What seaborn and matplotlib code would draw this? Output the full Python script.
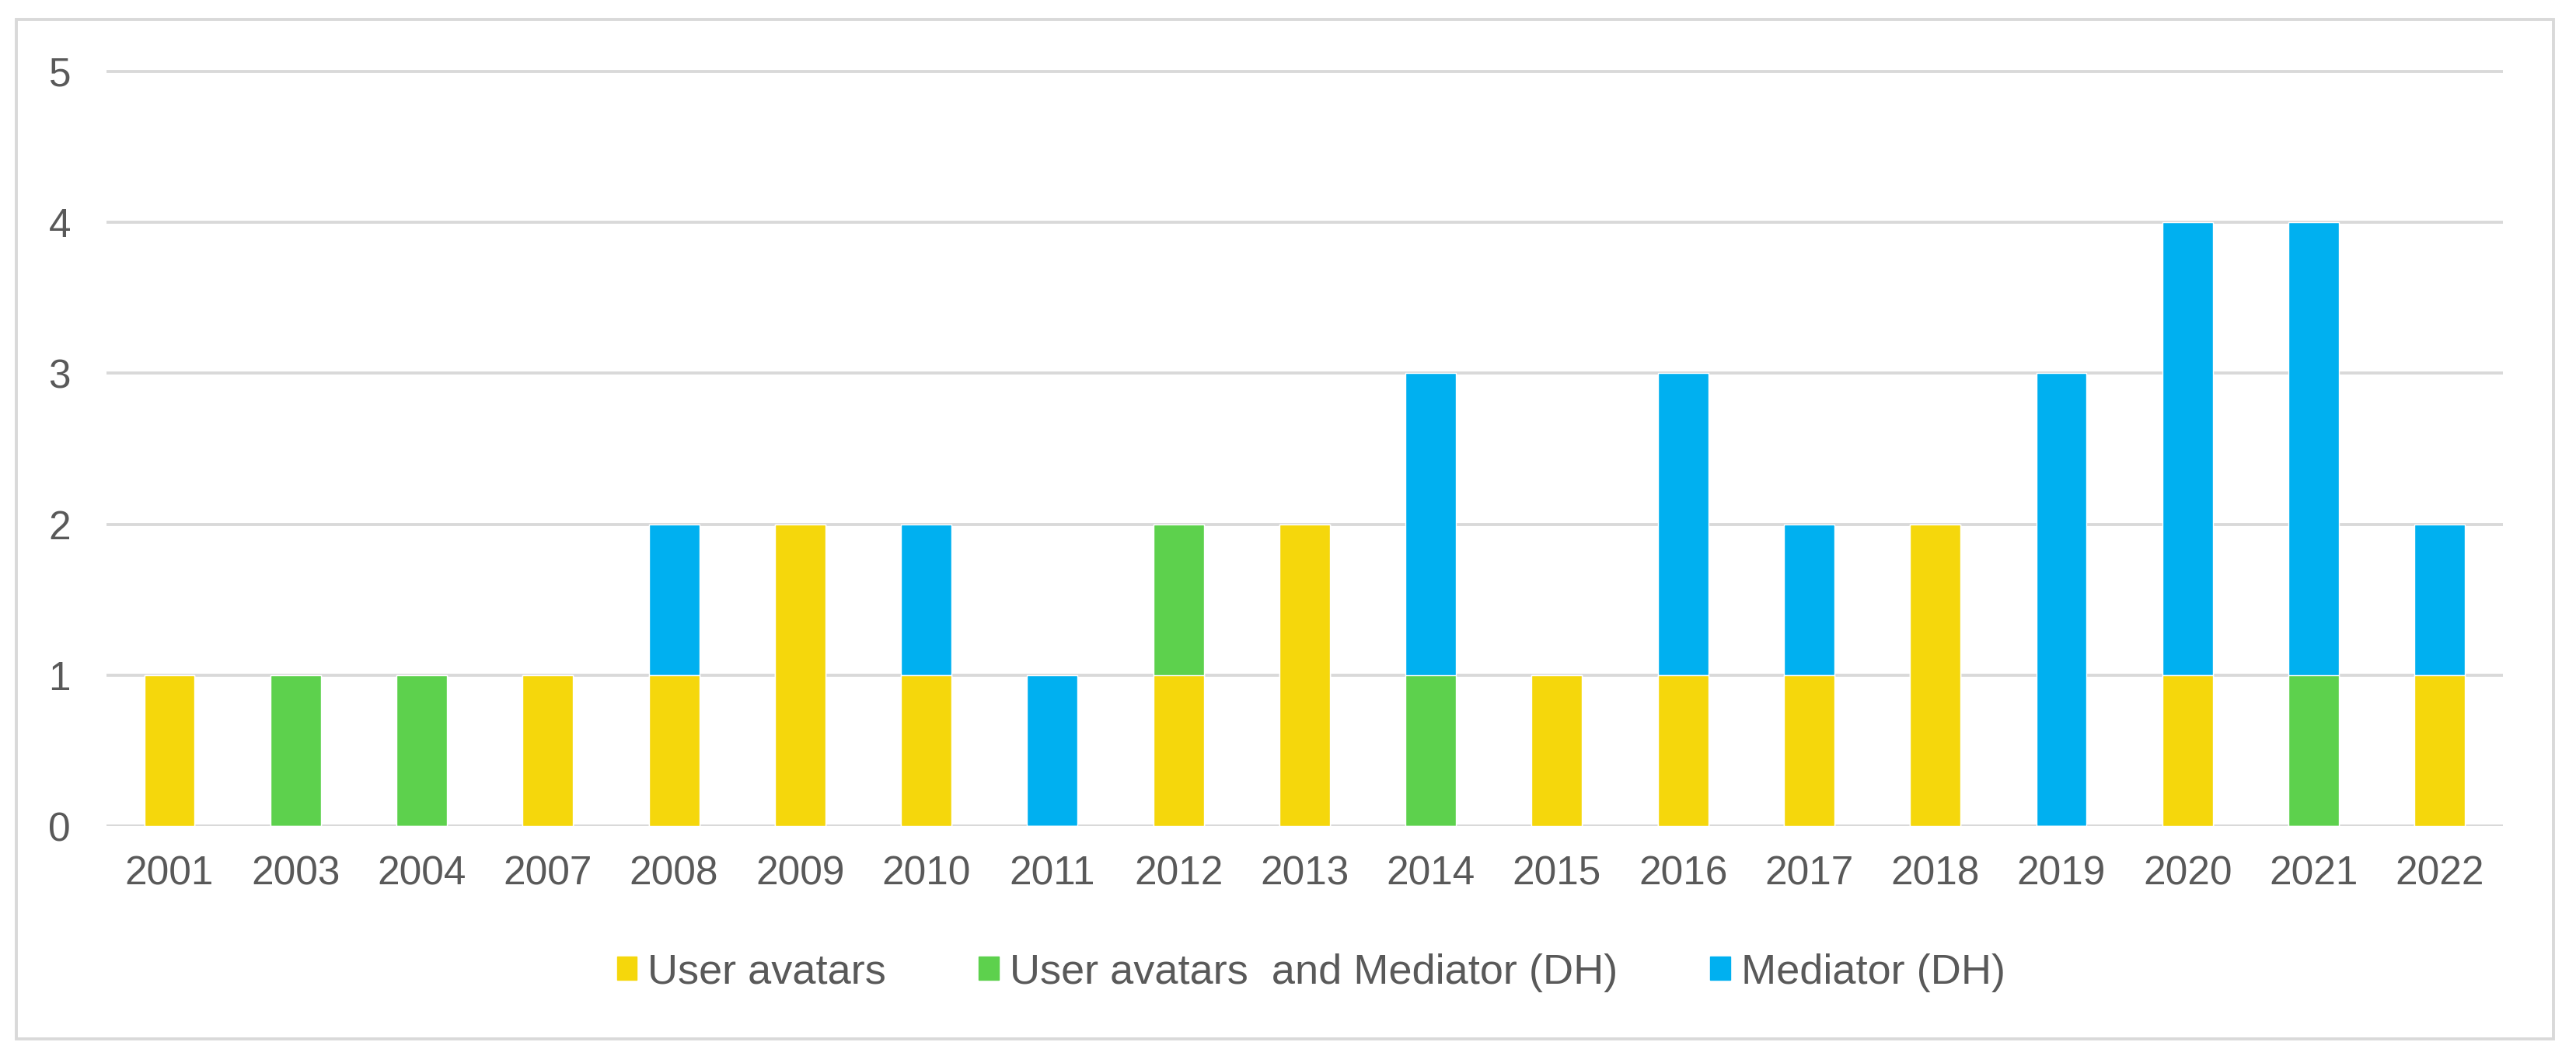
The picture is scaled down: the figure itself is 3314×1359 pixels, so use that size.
import pandas as pd
import matplotlib.pyplot as plt
import matplotlib.patches as mpatches
import seaborn as sns

years = ["2001", "2003", "2004", "2007", "2008", "2009", "2010", "2011", "2012", "2013",
         "2014", "2015", "2016", "2017", "2018", "2019", "2020", "2021", "2022"]
user_avatars = [1, 0, 0, 1, 1, 2, 1, 0, 1, 2, 0, 1, 1, 1, 2, 0, 1, 0, 1]
user_and_mediator = [0, 1, 1, 0, 0, 0, 0, 0, 1, 0, 1, 0, 0, 0, 0, 0, 0, 1, 0]
mediator = [0, 0, 0, 0, 1, 0, 1, 1, 0, 0, 2, 0, 2, 1, 0, 3, 3, 3, 1]

labels = ["User avatars", "User avatars  and Mediator (DH)", "Mediator (DH)"]
colors = ["#F5D70C", "#5DD14D", "#00B0F0"]

df = pd.DataFrame({"year": years, "ua": user_avatars, "both": user_and_mediator, "med": mediator})
# cumulative heights, drawn back to front so they look stacked
df["top_both"] = df["ua"] + df["both"]
df["top_med"] = df["top_both"] + df["med"]

sns.set_style("white")
plt.rcParams["font.family"] = ["Liberation Sans", "DejaVu Sans"]

fig = plt.figure(figsize=(33.14, 13.59), dpi=100)
ax = fig.add_axes([0.0413, 0.2178, 0.9303, 0.716])

grid_c = "#D9D9D9"
text_c = "#595959"

sns.barplot(data=df, x="year", y="top_med", color=colors[2], width=0.4, saturation=1, ax=ax, zorder=3)
sns.barplot(data=df, x="year", y="top_both", color=colors[1], width=0.4, saturation=1, ax=ax, zorder=4)
sns.barplot(data=df, x="year", y="ua", color=colors[0], width=0.4, saturation=1, ax=ax, zorder=5)

ax.set_ylim(0, 5.01)
ax.set_yticks(range(0, 6))
ax.yaxis.grid(True, color=grid_c, linewidth=2.8)
ax.set_axisbelow(True)
for s in ax.spines.values():
    s.set_visible(False)
ax.set_xlabel("")
ax.set_ylabel("")
ax.tick_params(axis="both", length=0, labelsize=37, labelcolor=text_c)
ax.tick_params(axis="y", pad=33)
ax.tick_params(axis="x", pad=27)

handles = [mpatches.Patch(color=c, label=l) for c, l in zip(colors, labels)]
fig.legend(handles=handles, loc="center", bbox_to_anchor=(0.509, 0.079), ncol=3,
           frameon=False, fontsize=39, labelcolor=text_c, handlelength=0.47,
           handleheight=0.47, handletextpad=0.26, columnspacing=2.2)

# light grey frame round the whole chart
fig.patches.append(mpatches.Rectangle((0.0063, 0.0162), 0.985, 0.9654, transform=fig.transFigure,
                                      fill=False, edgecolor=grid_c, linewidth=2.8))

fig.savefig("out.png", dpi=100, facecolor="w")
